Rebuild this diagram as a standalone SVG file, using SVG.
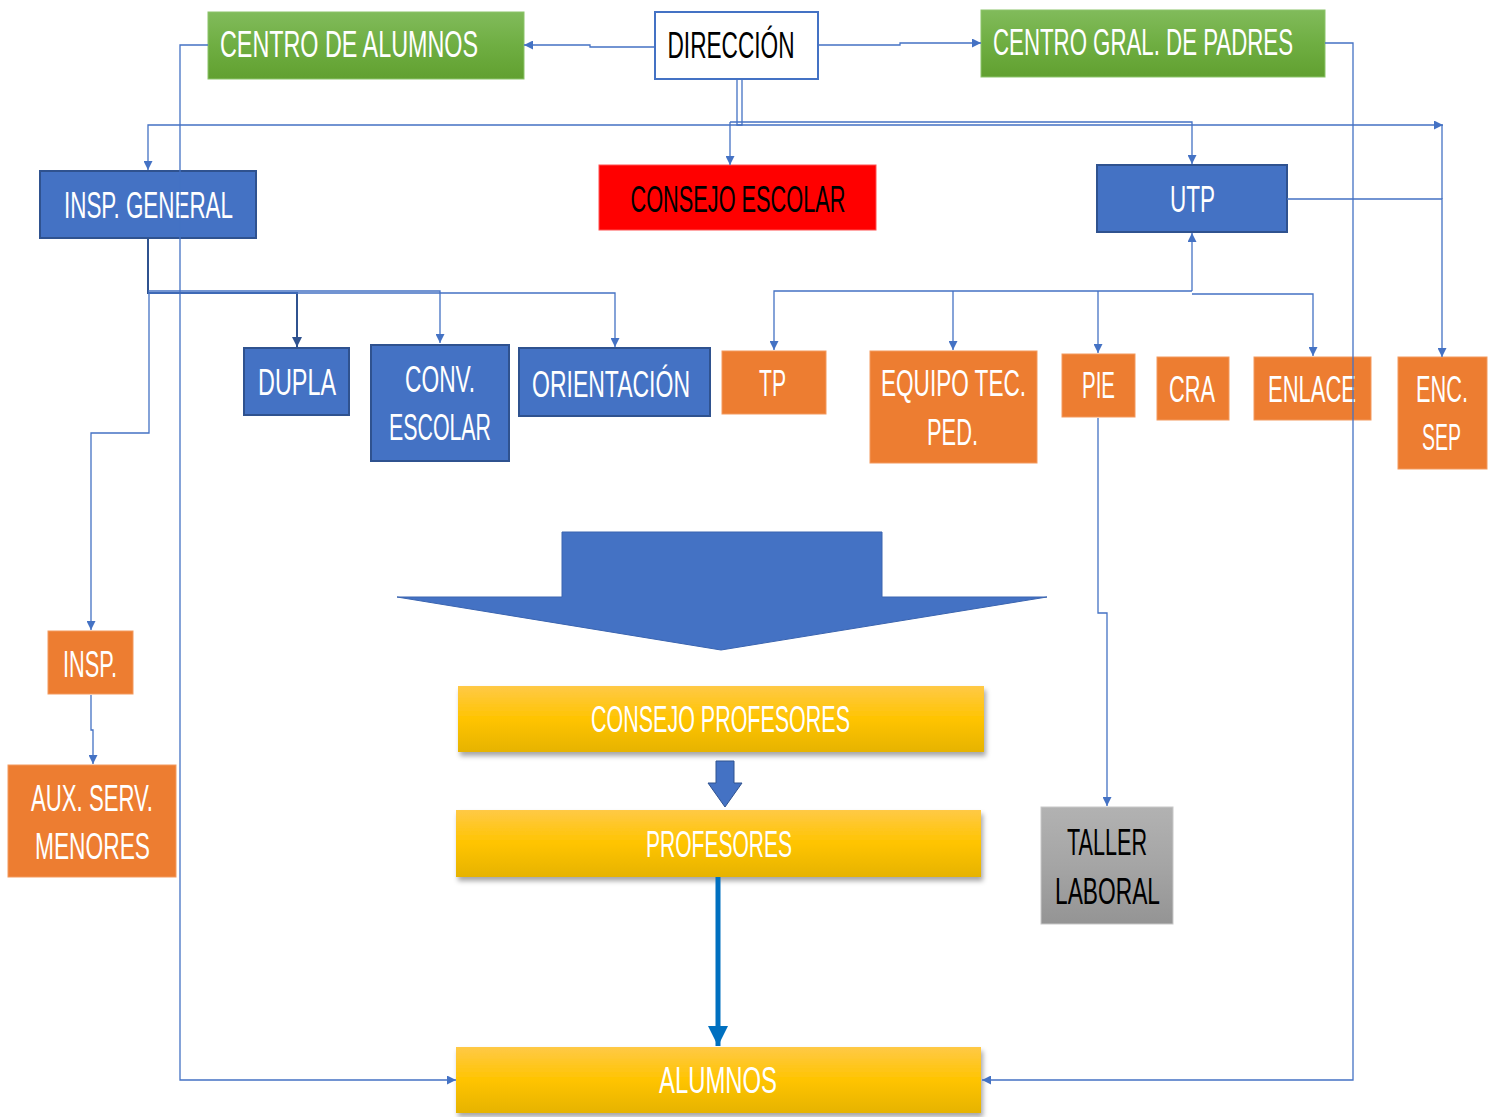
<svg xmlns="http://www.w3.org/2000/svg" width="1489" height="1117" viewBox="0 0 1489 1117">
<defs>
<linearGradient id="gGreen" x1="0" y1="0" x2="0" y2="1">
<stop offset="0" stop-color="#81bb5b"/><stop offset="0.5" stop-color="#6fae42"/><stop offset="1" stop-color="#61a030"/>
</linearGradient>
<linearGradient id="gGold" x1="0" y1="0" x2="0" y2="1">
<stop offset="0" stop-color="#ffc946"/><stop offset="0.5" stop-color="#ffc400"/><stop offset="1" stop-color="#e6b300"/>
</linearGradient>
<linearGradient id="gGrey" x1="0" y1="0" x2="0" y2="1">
<stop offset="0" stop-color="#b2b2b2"/><stop offset="0.5" stop-color="#a5a5a5"/><stop offset="1" stop-color="#949494"/>
</linearGradient>
<filter id="shadow" x="-5%" y="-20%" width="110%" height="150%">
<feDropShadow dx="2" dy="4" stdDeviation="2.5" flood-color="#000" flood-opacity="0.35"/>
</filter>
<marker id="ah" viewBox="0 0 10 10" refX="10" refY="5" markerWidth="9" markerHeight="9" markerUnits="userSpaceOnUse" orient="auto">
<path d="M0,0 L10,5 L0,10 z" fill="#4472c4"/>
</marker>
<marker id="ahDark" viewBox="0 0 10 10" refX="10" refY="5" markerWidth="10" markerHeight="10" markerUnits="userSpaceOnUse" orient="auto">
<path d="M0,0 L10,5 L0,10 z" fill="#2f528f"/>
</marker>
<marker id="ahBig" viewBox="0 0 10 10" refX="10" refY="5" markerWidth="26" markerHeight="20" markerUnits="userSpaceOnUse" orient="auto">
<path d="M0,0 L10,5 L0,10 z" fill="#0070c0"/>
</marker>
<style>
.t{font-family:"Liberation Sans",Arial,sans-serif;font-size:36px;text-anchor:middle;fill:#fff}
.tb{fill:#000}
.blue{fill:#4472c4;stroke:#2f528f;stroke-width:2}
.orange{fill:#ed7d31;stroke:#f39a5e;stroke-width:1}
.green{fill:url(#gGreen);stroke:#8cc46a;stroke-width:1}
.gold{fill:url(#gGold);filter:url(#shadow)}
.c{fill:none;stroke:#4472c4;stroke-width:1.3}
</style>
</defs>
<rect width="1489" height="1117" fill="#fff"/>

<g id="centro-alumnos">
<rect class="green" x="208" y="12" width="316" height="67"/>
<text class="t" x="349" y="57" textLength="258" lengthAdjust="spacingAndGlyphs">CENTRO DE ALUMNOS</text>
</g>
<g id="direccion">
<rect x="655" y="12" width="163" height="67" fill="#fff" stroke="#4472c4" stroke-width="2"/>
<text class="t tb" x="731" y="58" textLength="127" lengthAdjust="spacingAndGlyphs">DIRECCIÓN</text>
</g>
<g id="centro-padres">
<rect class="green" x="981" y="10" width="344" height="67"/>
<text class="t" x="1143" y="55" textLength="300" lengthAdjust="spacingAndGlyphs">CENTRO GRAL. DE PADRES</text>
</g>
<g id="insp-general">
<rect class="blue" x="40" y="171" width="216" height="67"/>
<text class="t" x="148.5" y="218" textLength="169" lengthAdjust="spacingAndGlyphs">INSP. GENERAL</text>
</g>
<g id="consejo-escolar">
<rect x="599" y="165" width="277" height="65" fill="#ff0000" stroke="#ff5050" stroke-width="1"/>
<text class="t tb" x="738" y="212" textLength="215" lengthAdjust="spacingAndGlyphs">CONSEJO ESCOLAR</text>
</g>
<g id="utp">
<rect class="blue" x="1097" y="165" width="190" height="67"/>
<text class="t" x="1192.5" y="212" textLength="45" lengthAdjust="spacingAndGlyphs">UTP</text>
</g>
<g id="dupla">
<rect class="blue" x="244" y="348" width="105" height="67"/>
<text class="t" x="297" y="395" textLength="78" lengthAdjust="spacingAndGlyphs">DUPLA</text>
</g>
<g id="conv-escolar">
<rect class="blue" x="371" y="345" width="138" height="116"/>
<text class="t" x="440" y="392" textLength="70" lengthAdjust="spacingAndGlyphs">CONV.</text>
<text class="t" x="440" y="440" textLength="102" lengthAdjust="spacingAndGlyphs">ESCOLAR</text>
</g>
<g id="orientacion">
<rect class="blue" x="519" y="348" width="191" height="68"/>
<text class="t" x="611" y="397" textLength="158" lengthAdjust="spacingAndGlyphs">ORIENTACIÓN</text>
</g>
<g id="tp">
<rect class="orange" x="722" y="351" width="104" height="63"/>
<text class="t" x="772.5" y="396" textLength="27" lengthAdjust="spacingAndGlyphs">TP</text>
</g>
<g id="equipo-tec">
<rect class="orange" x="870" y="351" width="167" height="112"/>
<text class="t" x="953.5" y="396" textLength="145" lengthAdjust="spacingAndGlyphs">EQUIPO TEC.</text>
<text class="t" x="952.5" y="445" textLength="51" lengthAdjust="spacingAndGlyphs">PED.</text>
</g>
<g id="pie">
<rect class="orange" x="1062" y="354" width="73" height="63"/>
<text class="t" x="1098.5" y="398" textLength="33" lengthAdjust="spacingAndGlyphs">PIE</text>
</g>
<g id="cra">
<rect class="orange" x="1157" y="357" width="72" height="63"/>
<text class="t" x="1192" y="402" textLength="46" lengthAdjust="spacingAndGlyphs">CRA</text>
</g>
<g id="enlace">
<rect class="orange" x="1254" y="357" width="117" height="63"/>
<text class="t" x="1312" y="402" textLength="88" lengthAdjust="spacingAndGlyphs">ENLACE</text>
</g>
<g id="enc-sep">
<rect class="orange" x="1398" y="357" width="89" height="112"/>
<text class="t" x="1442" y="402" textLength="52" lengthAdjust="spacingAndGlyphs">ENC.</text>
<text class="t" x="1441.5" y="450" textLength="39" lengthAdjust="spacingAndGlyphs">SEP</text>
</g>
<g id="insp">
<rect class="orange" x="48" y="631" width="85" height="63"/>
<text class="t" x="90" y="677" textLength="54" lengthAdjust="spacingAndGlyphs">INSP.</text>
</g>
<g id="aux-serv">
<rect class="orange" x="8" y="765" width="168" height="112"/>
<text class="t" x="92" y="811" textLength="122" lengthAdjust="spacingAndGlyphs">AUX. SERV.</text>
<text class="t" x="92.5" y="859" textLength="115" lengthAdjust="spacingAndGlyphs">MENORES</text>
</g>
<g id="big-arrow">
<polygon points="562,532 882,532 882,597 1047,597 721,650 397,597 562,597" fill="#4472c4" stroke="#3a64b0" stroke-width="1"/>
</g>
<g id="consejo-profesores">
<rect class="gold" x="458" y="686" width="526" height="66"/>
<text class="t" x="720.5" y="732" textLength="259" lengthAdjust="spacingAndGlyphs">CONSEJO PROFESORES</text>
</g>
<g id="small-arrow">
<polygon points="716,761 734,761 734,783 742,783 725,807 708,783 716,783" fill="#4472c4" stroke="#2f528f" stroke-width="1"/>
</g>
<g id="profesores">
<rect class="gold" x="456" y="810" width="525" height="67"/>
<text class="t" x="719" y="857" textLength="146" lengthAdjust="spacingAndGlyphs">PROFESORES</text>
</g>
<g id="taller-laboral">
<rect x="1041" y="807" width="132" height="117" fill="url(#gGrey)" stroke="#c8c8c8" stroke-width="1"/>
<text class="t tb" x="1107" y="855" textLength="80" lengthAdjust="spacingAndGlyphs">TALLER</text>
<text class="t tb" x="1107.5" y="904" textLength="105" lengthAdjust="spacingAndGlyphs">LABORAL</text>
</g>
<g id="alumnos">
<rect class="gold" x="456" y="1047" width="525" height="66"/>
<text class="t" x="718" y="1093" textLength="118" lengthAdjust="spacingAndGlyphs">ALUMNOS</text>
</g>

<g id="connectors">
<path class="c" d="M655,47 H590 V45 H524" marker-end="url(#ah)"/>
<path class="c" d="M818,45 H900 V43 H981" marker-end="url(#ah)"/>
<path class="c" d="M1325,43 H1353 V1080 H982" marker-end="url(#ah)"/>
<path class="c" d="M208,45 H180 V1080 H456" marker-end="url(#ah)"/>
<path class="c" d="M742,79 V125 H148 V170" marker-end="url(#ah)"/>
<path class="c" d="M737,79 V125 H1443" marker-end="url(#ah)"/>
<path class="c" d="M730,122 H1192 V164" marker-end="url(#ah)"/>
<path class="c" d="M730,122 V165" marker-end="url(#ah)"/>
<path class="c" d="M1442,125 V199"/>
<path class="c" d="M1287,199 H1442 V357" marker-end="url(#ah)"/>
<path d="M148,238 V293 H297 V347" fill="none" stroke="#2f528f" stroke-width="2" marker-end="url(#ahDark)"/>
<path class="c" d="M148,291 H440 V343" marker-end="url(#ah)"/>
<path class="c" d="M148,293 H615 V347" marker-end="url(#ah)"/>
<path class="c" d="M149,293 V433 H91 V630" marker-end="url(#ah)"/>
<path class="c" d="M91,695 V730 H93 V764" marker-end="url(#ah)"/>
<path class="c" d="M1192,291 V233" marker-end="url(#ah)"/>
<path class="c" d="M1192,291 H774 V350" marker-end="url(#ah)"/>
<path class="c" d="M953,291 V350" marker-end="url(#ah)"/>
<path class="c" d="M1098,291 V353" marker-end="url(#ah)"/>
<path class="c" d="M1192,294 H1313 V356" marker-end="url(#ah)"/>
<path class="c" d="M1098,418 V613 H1107 V806" marker-end="url(#ah)"/>
<path d="M718,877 V1046" fill="none" stroke="#0070c0" stroke-width="5" marker-end="url(#ahBig)"/>
</g>
</svg>
